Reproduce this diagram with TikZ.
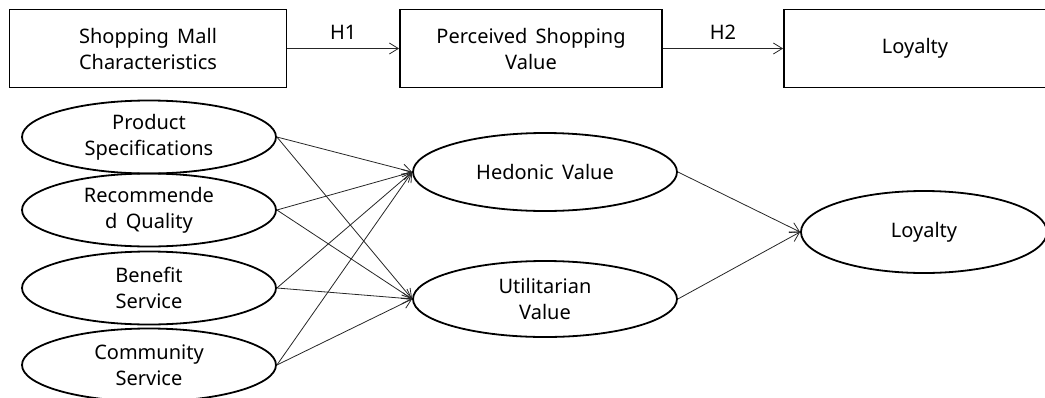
\documentclass[tikz,border=0pt]{standalone}
\usepackage{fontspec}
\setmainfont{Noto Sans}[WordSpace=1.6]
\usetikzlibrary{shapes.geometric,arrows.meta}

\tikzset{
	stage/.style={draw,line width=1.8pt,minimum width=277pt,minimum height=78pt,
		align=center,inner sep=0pt,font=\fontsize{20}{26}\selectfont},
	factor/.style={draw,ellipse,line width=1.8pt,minimum width=254pt,minimum height=73pt,
		align=center,inner sep=0pt,font=\fontsize{20}{26}\selectfont},
	path/.style={-{Straight Barb[length=9pt,width=11pt]},line width=0.8pt,draw=black!85},
	hyp/.style={font=\fontsize{20}{22}\selectfont}
}

\begin{document}
\begin{tikzpicture}[x=1pt,y=-1pt]

	\useasboundingbox (0,0) rectangle (1045,397);

	% Research model
	\node[stage] (mall) at (148,48.5) {Shopping Mall\\Characteristics};
	\node[stage,minimum width=262pt] (value) at (531,48.5) {Perceived Shopping\\Value};
	\node[stage,minimum width=262pt] (loyal) at (915,48.5) {Loyalty};

	\draw[path] (mall) -- node[hyp,above=5pt] {H1} (value);
	\draw[path] (value) -- node[hyp,above=5pt] {H2} (loyal);

	% Factors
	\node[factor] (prod) at (149,137) {Product\\Specifications};
	\node[factor] (reco) at (149,210) {Recommende\\d Quality};
	\node[factor] (bene) at (149,288) {Benefit\\Service};
	\node[factor] (comm) at (149,365) {Community\\Service};

	\node[factor,minimum width=264pt,minimum height=78pt] (hedo) at (545,172) {Hedonic Value};
	\node[factor,minimum width=264pt,minimum height=76pt] (util) at (545,299) {Utilitarian\\Value};
	\node[factor,minimum width=246pt,minimum height=82pt] (loya) at (924,232) {Loyalty};

	% Paths
	\foreach \src in {prod,reco,bene,comm}{
		\draw[path] (\src.east) -- (hedo.west);
		\draw[path] (\src.east) -- (util.west);
	}
	\draw[path] (hedo.east) -- (loya.west);
	\draw[path] (util.east) -- (loya.west);

\end{tikzpicture}
\end{document}
